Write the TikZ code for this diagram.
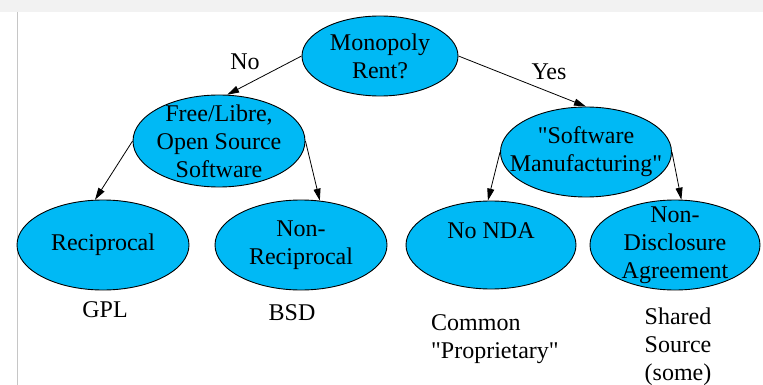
\documentclass[tikz,border=0pt]{standalone}
\usepackage{fontspec}
\setmainfont{Liberation Serif}[Ligatures=TeXOff]
\usetikzlibrary{shapes.geometric,arrows.meta}
\definecolor{bubblue}{RGB}{0,185,245}
\definecolor{barbg}{RGB}{242,242,242}
\tikzset{
  bubble/.style={ellipse,draw=black,fill=bubblue,line width=0.9pt,inner sep=0pt},
  bubtext/.style={align=center,inner sep=0pt},
  link/.style={-{Triangle[length=12pt,width=7pt]},line width=0.8pt},
}
\begin{document}
\begin{tikzpicture}[x=1pt,y=-1pt,font=\rmfamily\fontsize{24}{28}\selectfont]
\useasboundingbox (0,0) rectangle (763,385);
% strip along the top, rule on the left
\fill[barbg] (0,0) rectangle (763,12);
\draw[gray!45,line width=1pt] (17,12) -- (17,385);
% ellipses: name/x/y/width/height/text
\foreach \nm/\x/\y/\w/\h/\txt in {%
  mono/380/56/156/80/{Monopoly\\Rent?},
  free/219/141/172/92/{Free/Libre,\\Open Source\\Software},
  sm/586/152/171/90/{"Software\\Manufacturing"},
  rec/103/245/172/90/{Reciprocal},
  nonrec/301/245/172/90/{Non-\\Reciprocal},
  nda/491/245/170/88/{No NDA\\\mbox{}},
  nd/675/245/170/90/{Non-\\Disclosure\\Agreement}}{
  \node[bubble,minimum width=\w,minimum height=\h] (\nm) at (\x,\y) {};
  \node[bubtext] (\nm-t) at (\nm) {\txt};}
% decision arrows
\draw[link] (mono.west) -- (free.80);
\draw[link] (mono.east) -- (sm.north);
\draw[link] (free.west) -- (rec.100);
\draw[link] (free.east) -- (nonrec.67);
\draw[link] (sm.west) -- (nda.94);
\draw[link] (sm.east) -- (nd.82);
\node[bubtext] (no) at (245,62) {No};
\node[bubtext] (yes) at (549,72) {Yes};
% examples under each leaf
\node[bubtext] (gpl) at (105,310) {GPL};
\node[bubtext] (bsd) at (292,313) {BSD};
\node[bubtext,align=left,anchor=west] (common) at (431,339) {Common\\"Proprietary"};
\node[bubtext] (shared) at (678,347) {Shared\\Source\\(some)};
\end{tikzpicture}
\end{document}
